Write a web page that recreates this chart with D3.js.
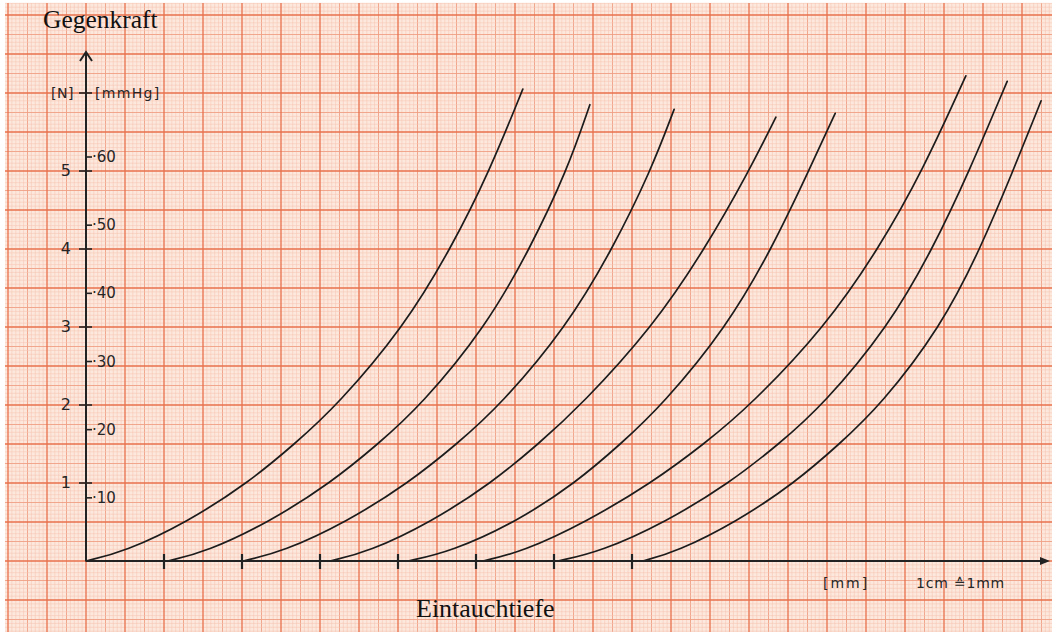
<!DOCTYPE html>
<html>
<head>
<meta charset="utf-8">
<script src="https://cdn.jsdelivr.net/npm/d3@7"></script>
<style>
  body { margin: 0; background: #fff; }
  svg { display: block; }
  .hand { font-family: "DejaVu Sans", sans-serif; fill: #262626; }
  .serif { font-family: "Liberation Serif", "Times New Roman", serif; fill: #111; }
</style>
</head>
<body>
<svg id="chart"></svg>
<script>
// force levels (N)
const forceLevels = [0, 0.12, 0.5, 1, 1.5, 2, 3, 4, 5];
// depth (mm) where each curve reaches the levels above
const depthC1 = [0, 1.0, 2.6, 4.15, 5.35, 6.45, 8.15, 9.35, 10.35];
const depthC2 = [2.10, 3.10, 4.70, 6.27, 7.49, 8.60, 10.25, 11.38, 12.33];
const depthC3 = [4.03, 5.05, 6.68, 8.27, 9.51, 10.63, 12.32, 13.50, 14.48];
const depthC4 = [6.26, 7.26, 8.85, 10.40, 11.60, 12.70, 14.53, 15.87, 17.00];
const depthC5 = [8.26, 9.36, 11.03, 12.55, 13.71, 14.78, 16.43, 17.58, 18.53];
const depthC6 = [10.18, 11.20, 12.82, 14.50, 15.85, 17.05, 18.95, 20.32, 21.45];
const depthC7 = [12.10, 13.20, 14.87, 16.50, 17.77, 18.90, 20.57, 21.71, 22.65];
const depthC8 = [14.28, 15.15, 16.67, 18.17, 19.32, 20.38, 21.92, 22.93, 23.77];
// where each curve stops
const endDepth = [11.2, 12.92, 15.08, 17.69, 19.21, 22.56, 23.62, 24.49];
const endForce = [6.05, 5.85, 5.79, 5.69, 5.74, 6.22, 6.15, 5.90];

const depthTicks = [2, 4, 6, 8, 10, 12, 14];
const forceTicks = [1, 2, 3, 4, 5];
const pressureTicks = [10, 20, 30, 40, 50, 60];

const W = 1058, H = 635;
const svg = d3.select("#chart").attr("width", W).attr("height", H);

// 1 cm on paper = 39 px ; 1 cm = 1 mm depth, 2 cm = 1 N
const x = d3.scaleLinear().domain([0, 24.9]).range([86, 86 + 24.9 * 39]);
const y = d3.scaleLinear().domain([0, 6]).range([561, 561 - 6 * 78]);
const yP = d3.scaleLinear().domain([0, 60]).range([566, 157]);

// graph paper
const paper = {x0: 5, y0: 3, x1: 1052, y1: 632};
svg.append("rect")
  .attr("x", paper.x0).attr("y", paper.y0)
  .attr("width", paper.x1 - paper.x0).attr("height", paper.y1 - paper.y0)
  .attr("fill", "#fde8de");

const gGrid = svg.append("g");
function gridStyle(k){
  if (k % 10 == 0) return ["#e8704c", 1.3];
  if (k % 5 == 0) return ["#ef9f84", 0.9];
  return ["#f5c4b0", 0.55];
}
// vertical mm lines
d3.range(-25, 250).forEach(k => {
  let px = x(k / 10);
  if (px < paper.x0 || px > paper.x1) return;
  let [c, w] = gridStyle(Math.abs(k));
  gGrid.append("line").attr("x1", px).attr("x2", px)
    .attr("y1", paper.y0).attr("y2", paper.y1)
    .attr("stroke", c).attr("stroke-width", w);
});
// horizontal mm lines
d3.range(-20, 150).forEach(k => {
  let py = y(k / 20);
  if (py < paper.y0 || py > paper.y1) return;
  let [c, w] = gridStyle(Math.abs(k));
  gGrid.append("line").attr("y1", py).attr("y2", py)
    .attr("x1", paper.x0).attr("x2", paper.x1)
    .attr("stroke", c).attr("stroke-width", w);
});
// major lines on top
gGrid.selectAll("line").filter(function(){ return +d3.select(this).attr("stroke-width") > 1; }).raise();

// curves
const depths = [depthC1, depthC2, depthC3, depthC4, depthC5, depthC6, depthC7, depthC8];
const series = depths.map((d, i) => {
  let pts = d.map((v, j) => [v, forceLevels[j]]);
  pts.push([endDepth[i], endForce[i]]);
  return pts;
});
// hand drawn with a french curve -> smooth b-spline through the read points
const line = d3.line().x(d => x(d[0])).y(d => y(d[1])).curve(d3.curveBasis);
svg.append("g").selectAll("path")
  .data(series)
  .join("path")
  .attr("d", line)
  .attr("fill", "none")
  .attr("stroke", "#1c1c1c")
  .attr("stroke-width", 1.7)
  .attr("stroke-linecap", "round");

// axes
const axisCol = "#222";
const gAx = svg.append("g").attr("stroke", axisCol).attr("fill", "none");
gAx.append("line").attr("x1", x(0)).attr("x2", x(0)).attr("y1", y(0)).attr("y2", 52).attr("stroke-width", 2);
gAx.append("path").attr("d", `M${x(0) - 6},61 L${x(0)},52 L${x(0) + 6},61`).attr("stroke-width", 2);
gAx.append("line").attr("x1", x(0)).attr("x2", 1046).attr("y1", y(0)).attr("y2", y(0)).attr("stroke-width", 2);
svg.append("path").attr("d", `M1040,${y(0) - 4} L1050,${y(0)} L1040,${y(0) + 4} Z`).attr("fill", axisCol);

// x ticks
gAx.selectAll(".xt").data(depthTicks).join("line")
  .attr("x1", d => x(d)).attr("x2", d => x(d))
  .attr("y1", y(0) - 7).attr("y2", y(0) + 8)
  .attr("stroke-width", 2.2);

// force ticks (left) incl. unit tick at 6
gAx.selectAll(".yt").data(forceTicks.concat([6])).join("line")
  .attr("x1", x(0) - 7).attr("x2", x(0) + 6)
  .attr("y1", d => y(d)).attr("y2", d => y(d))
  .attr("stroke-width", 1.6);
svg.selectAll(".yl").data(forceTicks).join("text")
  .attr("class", "hand")
  .attr("x", x(0) - 15).attr("y", d => y(d) + 5)
  .attr("text-anchor", "end")
  .attr("font-size", 16)
  .text(d => d);

// pressure ticks (right)
gAx.selectAll(".pt").data(pressureTicks).join("line")
  .attr("x1", x(0)).attr("x2", x(0) + 6)
  .attr("y1", d => yP(d)).attr("y2", d => yP(d))
  .attr("stroke-width", 1.6);
svg.selectAll(".pl").data(pressureTicks).join("text")
  .attr("class", "hand")
  .attr("x", x(0) + 6).attr("y", d => yP(d) + 5)
  .attr("font-size", 15)
  .text(d => "\u00b7" + d);

// unit labels
svg.append("text").attr("class", "hand").attr("x", x(0) - 12).attr("y", y(6) + 5)
  .attr("text-anchor", "end").attr("font-size", 14).attr("letter-spacing", 0.5).text("[N]");
svg.append("text").attr("class", "hand").attr("x", x(0) + 9).attr("y", y(6) + 5)
  .attr("font-size", 14).attr("letter-spacing", 1.3).text("[mmHg]");
svg.append("text").attr("class", "hand").attr("x", 823).attr("y", 588)
  .attr("font-size", 14).attr("letter-spacing", 2).text("[mm]");
svg.append("text").attr("class", "hand").attr("x", 916).attr("y", 588)
  .attr("font-size", 14).attr("letter-spacing", 0.8).text("1cm \u22591mm");

// titles
svg.append("text").attr("class", "serif").attr("x", 43).attr("y", 28)
  .attr("font-size", 25.5).text("Gegenkraft");
svg.append("text").attr("class", "serif").attr("x", 416).attr("y", 617)
  .attr("font-size", 26).text("Eintauchtiefe");
</script>
</body>
</html>
